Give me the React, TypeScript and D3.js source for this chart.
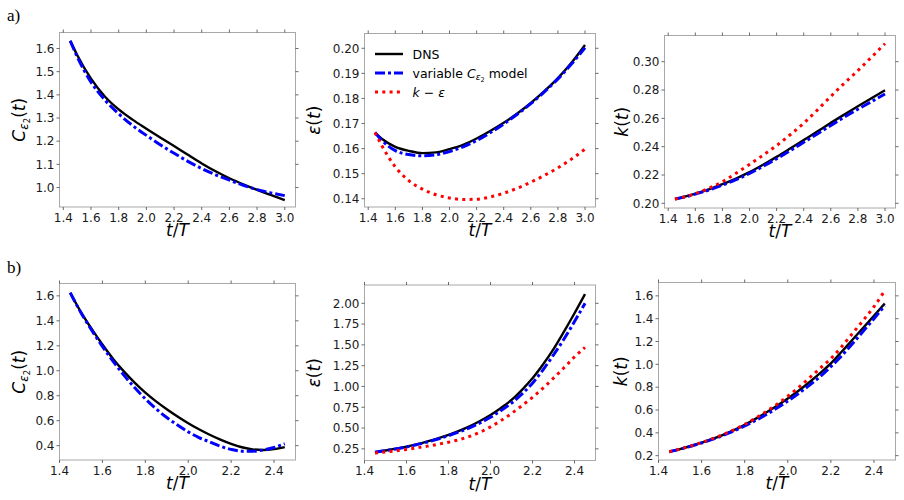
import React, { useRef, useEffect } from 'react'
import * as d3 from 'd3'

// time grids (t/T)
const tA = [1.45, 1.5, 1.6, 1.7, 1.8, 1.9, 2.0, 2.1, 2.2, 2.3, 2.4, 2.5, 2.6, 2.7, 2.8, 2.9, 3.0]
const tB = [1.45, 1.5, 1.55, 1.6, 1.65, 1.7, 1.75, 1.8, 1.85, 1.9, 1.95, 2.0, 2.05, 2.1, 2.15, 2.2, 2.25, 2.3, 2.35, 2.4, 2.45]

// row a)
const cA_dns = [1.633, 1.572, 1.47, 1.393, 1.337, 1.293, 1.254, 1.216, 1.179, 1.141, 1.104, 1.07, 1.04, 1.014, 0.99, 0.968, 0.946]
const cA_var = [1.633, 1.565, 1.455, 1.378, 1.318, 1.268, 1.225, 1.185, 1.148, 1.113, 1.082, 1.055, 1.032, 1.01, 0.991, 0.977, 0.965]

const epsA_dns = [0.1664, 0.1639, 0.1607, 0.1591, 0.1582, 0.1585, 0.1598, 0.1615, 0.164, 0.167, 0.1703, 0.174, 0.1782, 0.1829, 0.1881, 0.1942, 0.2013]
const epsA_var = [0.1664, 0.1633, 0.1592, 0.1576, 0.1571, 0.1575, 0.1588, 0.1607, 0.1632, 0.1663, 0.1698, 0.1737, 0.1779, 0.1826, 0.1878, 0.1937, 0.2002]
const epsA_ke = [0.1664, 0.1612, 0.1527, 0.1472, 0.1438, 0.1416, 0.1403, 0.1397, 0.1398, 0.1407, 0.1422, 0.1442, 0.1466, 0.1493, 0.1523, 0.1558, 0.1598]

const kA_dns = [0.203, 0.2041, 0.2068, 0.2099, 0.2135, 0.2175, 0.222, 0.2272, 0.2328, 0.2387, 0.2447, 0.2507, 0.2568, 0.2627, 0.2685, 0.2742, 0.2798]
const kA_var = [0.203, 0.204, 0.2065, 0.2094, 0.2128, 0.2167, 0.2211, 0.2261, 0.2315, 0.2372, 0.2431, 0.249, 0.255, 0.2609, 0.2664, 0.2718, 0.2772]
const kA_ke = [0.203, 0.2041, 0.2068, 0.2107, 0.2153, 0.2212, 0.2275, 0.234, 0.2408, 0.2484, 0.2566, 0.2658, 0.2755, 0.2848, 0.2937, 0.3032, 0.3127]

// row b)
const cB_dns = [1.625, 1.47, 1.335, 1.21, 1.095, 0.995, 0.905, 0.825, 0.755, 0.692, 0.634, 0.58, 0.531, 0.487, 0.448, 0.414, 0.387, 0.37, 0.365, 0.372, 0.388]
const cB_var = [1.625, 1.465, 1.325, 1.195, 1.075, 0.965, 0.865, 0.775, 0.695, 0.625, 0.565, 0.51, 0.465, 0.43, 0.395, 0.37, 0.356, 0.355, 0.365, 0.385, 0.415]

const epsB_dns = [0.21, 0.23, 0.252, 0.277, 0.306, 0.34, 0.377, 0.418, 0.466, 0.52, 0.585, 0.658, 0.742, 0.838, 0.96, 1.099, 1.265, 1.45, 1.66, 1.88, 2.11]
const epsB_var = [0.21, 0.228, 0.249, 0.273, 0.301, 0.333, 0.369, 0.409, 0.453, 0.503, 0.562, 0.63, 0.71, 0.8, 0.91, 1.04, 1.2, 1.38, 1.57, 1.78, 2.0]
const epsB_ke = [0.2, 0.213, 0.227, 0.243, 0.262, 0.283, 0.305, 0.33, 0.36, 0.4, 0.45, 0.515, 0.59, 0.675, 0.77, 0.87, 0.98, 1.1, 1.225, 1.355, 1.47]

const kB_dns = [0.235, 0.258, 0.285, 0.314, 0.346, 0.382, 0.423, 0.47, 0.522, 0.578, 0.637, 0.7, 0.768, 0.843, 0.923, 1.008, 1.11, 1.215, 1.32, 1.425, 1.533]
const kB_var = [0.235, 0.257, 0.283, 0.311, 0.342, 0.377, 0.416, 0.46, 0.508, 0.56, 0.617, 0.678, 0.745, 0.816, 0.893, 0.98, 1.075, 1.18, 1.29, 1.4, 1.515]
const kB_ke = [0.235, 0.258, 0.285, 0.315, 0.348, 0.385, 0.427, 0.474, 0.528, 0.587, 0.65, 0.72, 0.797, 0.88, 0.965, 1.05, 1.155, 1.27, 1.385, 1.505, 1.645]

// ticks
const xTicksA = [1.4, 1.6, 1.8, 2.0, 2.2, 2.4, 2.6, 2.8, 3.0]
const xTicksB = [1.4, 1.6, 1.8, 2.0, 2.2, 2.4]
const yTicksCA = [1.0, 1.1, 1.2, 1.3, 1.4, 1.5, 1.6]
const yTicksEpsA = [0.14, 0.15, 0.16, 0.17, 0.18, 0.19, 0.2]
const yTicksKA = [0.2, 0.22, 0.24, 0.26, 0.28, 0.3]
const yTicksCB = [0.4, 0.6, 0.8, 1.0, 1.2, 1.4, 1.6]
const yTicksEpsB = [0.25, 0.5, 0.75, 1.0, 1.25, 1.5, 1.75, 2.0]
const yTicksKB = [0.2, 0.4, 0.6, 0.8, 1.0, 1.2, 1.4, 1.6]

const legendLabels = ['DNS', 'variable', 'k-eps']

const FONT = 'DejaVu Sans, sans-serif'
const STYLES: Record<string, { color: string; width: number; dash: string | null }> = {
  dns: { color: '#000000', width: 2.4, dash: null },
  var: { color: '#0000ff', width: 3, dash: '10,3,3,3' },
  ke: { color: '#ff0000', width: 3, dash: '3,4.3' },
}

export default function App() {
  const svgRef = useRef<SVGSVGElement>(null)

  useEffect(() => {
    if (!svgRef.current) return
    const svg = d3.select(svgRef.current)
    svg.selectAll('*').remove()

    const panels = [
      { box: [59.5, 32.5, 295.5, 207], labelX: 25, xDom: [1.3725, 3.0775], yDom: [0.916, 1.669], t: tA, xTicks: xTicksA, yTicks: yTicksCA, fmt: '.1f', label: 'C', series: { dns: cA_dns, var: cA_var } },
      { box: [364.5, 33.5, 595.5, 207], labelX: 320, xDom: [1.3725, 3.0775], yDom: [0.1367, 0.2059], t: tA, xTicks: xTicksA, yTicks: yTicksEpsA, fmt: '.2f', label: 'eps', series: { dns: epsA_dns, var: epsA_var, ke: epsA_ke }, legend: true },
      { box: [664.5, 35.5, 895.5, 208], labelX: 628, xDom: [1.3725, 3.0775], yDom: [0.1967, 0.3185], t: tA, xTicks: xTicksA, yTicks: yTicksKA, fmt: '.2f', label: 'k', series: { dns: kA_dns, var: kA_var, ke: kA_ke } },
      { box: [59.5, 283.5, 295.5, 460], labelX: 25, xDom: [1.4, 2.5], yDom: [0.285, 1.699], t: tB, xTicks: xTicksB, yTicks: yTicksCB, fmt: '.1f', label: 'C', series: { dns: cB_dns, var: cB_var } },
      { box: [364.5, 285, 595.5, 460.5], labelX: 320, xDom: [1.4, 2.5], yDom: [0.11, 2.22], t: tB, xTicks: xTicksB, yTicks: yTicksEpsB, fmt: '.2f', label: 'eps', series: { dns: epsB_dns, var: epsB_var, ke: epsB_ke } },
      { box: [658.5, 282.5, 895.5, 460], labelX: 627, xDom: [1.4, 2.5], yDom: [0.162, 1.717], t: tB, xTicks: xTicksB, yTicks: yTicksKB, fmt: '.1f', label: 'k', series: { dns: kB_dns, var: kB_var, ke: kB_ke } },
    ]

    panels.forEach((p: any) => {
      const [x0, y0, x1, y1] = p.box
      const x = d3.scaleLinear().domain(p.xDom).range([x0, x1])
      const y = d3.scaleLinear().domain(p.yDom).range([y1, y0])
      const g = svg.append('g')

      // curves
      const line = d3.line<number>()
        .x((_, i) => x(p.t[i]))
        .y(d => y(d))
        .curve(d3.curveMonotoneX)
      ;['dns', 'var', 'ke'].forEach(key => {
        const vals = p.series[key]
        if (!vals) return
        const st = STYLES[key]
        g.append('path')
          .attr('d', line(vals))
          .attr('fill', 'none')
          .attr('stroke', st.color)
          .attr('stroke-width', st.width)
          .attr('stroke-dasharray', st.dash)
          .attr('stroke-linecap', 'butt')
      })

      // frame
      g.append('rect')
        .attr('x', x0).attr('y', y0)
        .attr('width', x1 - x0).attr('height', y1 - y0)
        .attr('fill', 'none').attr('stroke', '#a8a8a8').attr('stroke-width', 1)

      // ticks, all four sides
      const tk = g.append('g').attr('stroke', '#444').attr('stroke-width', 0.8)
      p.xTicks.forEach((v: number) => {
        const xx = x(v)
        tk.append('line').attr('x1', xx).attr('x2', xx).attr('y1', y1).attr('y2', y1 + 3)
        tk.append('line').attr('x1', xx).attr('x2', xx).attr('y1', y0 - 3).attr('y2', y0)
      })
      p.yTicks.forEach((v: number) => {
        const yy = y(v)
        tk.append('line').attr('x1', x0 - 3).attr('x2', x0).attr('y1', yy).attr('y2', yy)
        tk.append('line').attr('x1', x1).attr('x2', x1 + 3).attr('y1', yy).attr('y2', yy)
      })

      // tick labels
      g.selectAll('.xl').data(p.xTicks).join('text')
        .attr('x', (d: any) => x(d)).attr('y', y1 + 14.5)
        .attr('text-anchor', 'middle')
        .attr('font-family', FONT).attr('font-size', 12).attr('fill', '#1a1a1a')
        .text((d: any) => d3.format('.1f')(d))
      g.selectAll('.yl').data(p.yTicks).join('text')
        .attr('x', x0 - 5).attr('y', (d: any) => y(d) + 4.3)
        .attr('text-anchor', 'end')
        .attr('font-family', FONT).attr('font-size', 12).attr('fill', '#1a1a1a')
        .text((d: any) => d3.format(p.fmt)(d))

      // x label  t/T
      const xl = g.append('text')
        .attr('x', (x0 + x1) / 2).attr('y', y1 + 29)
        .attr('text-anchor', 'middle')
        .attr('font-family', FONT).attr('font-size', 17).attr('fill', '#000')
      xl.append('tspan').attr('font-style', 'italic').text('t')
      xl.append('tspan').text('/')
      xl.append('tspan').attr('font-style', 'italic').text('T')

      // y label
      const ly = (y0 + y1) / 2
      const yl = g.append('text')
        .attr('transform', `translate(${p.labelX},${ly}) rotate(-90)`)
        .attr('text-anchor', 'middle')
        .attr('font-family', FONT).attr('font-size', 17).attr('fill', '#000')
      if (p.label === 'C') {
        yl.append('tspan').attr('font-style', 'italic').text('C')
        yl.append('tspan').attr('font-style', 'italic').attr('font-size', 12).attr('dy', 3).text('ε')
        yl.append('tspan').attr('font-size', 8.5).attr('dy', 2).text('2')
        yl.append('tspan').attr('dy', -5).text('(')
      } else if (p.label === 'eps') {
        yl.append('tspan').attr('font-style', 'italic').text('ε')
        yl.append('tspan').text('(')
      } else {
        yl.append('tspan').attr('font-style', 'italic').text('k')
        yl.append('tspan').text('(')
      }
      yl.append('tspan').attr('font-style', 'italic').text('t')
      yl.append('tspan').text(')')

      // legend
      if (p.legend) {
        const lg = g.append('g')
        ;['dns', 'var', 'ke'].forEach((key, i) => {
          const st = STYLES[key]
          const ry = y0 + 20.5 + i * 19
          lg.append('line')
            .attr('x1', x0 + 10.5).attr('x2', x0 + 38.5)
            .attr('y1', ry).attr('y2', ry)
            .attr('stroke', st.color).attr('stroke-width', st.width)
            .attr('stroke-dasharray', st.dash)
          const tx = lg.append('text')
            .attr('x', x0 + 48).attr('y', ry + 4.5)
            .attr('font-family', FONT).attr('font-size', 12.5).attr('fill', '#000')
          if (legendLabels[i] === 'DNS') {
            tx.text('DNS')
          } else if (legendLabels[i] === 'variable') {
            tx.append('tspan').text('variable ')
            tx.append('tspan').attr('font-style', 'italic').text('C')
            tx.append('tspan').attr('font-style', 'italic').attr('font-size', 9).attr('dy', 2.5).text('ε')
            tx.append('tspan').attr('font-size', 6.5).attr('dy', 1.5).text('2')
            tx.append('tspan').attr('dy', -4).text(' model')
          } else {
            tx.append('tspan').attr('font-style', 'italic').text('k')
            tx.append('tspan').text(' − ')
            tx.append('tspan').attr('font-style', 'italic').text('ε')
          }
        })
      }
    })

    // panel row labels
    svg.append('text').attr('x', 7).attr('y', 21)
      .attr('font-family', 'Liberation Serif, serif').attr('font-size', 17).text('a)')
    svg.append('text').attr('x', 7).attr('y', 273)
      .attr('font-family', 'Liberation Serif, serif').attr('font-size', 17).text('b)')
  }, [])

  return (
    <svg ref={svgRef} width={904} height={500}
      style={{ position: 'absolute', left: 0, top: 0, background: '#fff', display: 'block' }} />
  )
}
